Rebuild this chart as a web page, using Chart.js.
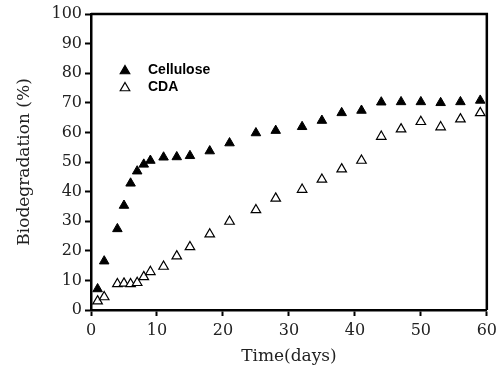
<!DOCTYPE html>
<html>
<head>
<meta charset="utf-8">
<script src="https://cdn.jsdelivr.net/npm/chart.js@4.4.1/dist/chart.umd.min.js"></script>
<style>
  body { margin: 0; background: #fff; }
  canvas { display: block; }
</style>
</head>
<body>
<canvas id="bioChart" width="502" height="372"></canvas>
<script>
// 측정 시점 (days)
const days = [1, 2, 4, 5, 6, 7, 8, 9, 11, 13, 15, 18, 21, 25, 28, 32, 35, 38, 41, 44, 47, 50, 53, 56, 59];
// Biodegradation (%)
const cellulose = [7.1, 16.5, 27.4, 35.3, 42.8, 46.9, 49.2, 50.5, 51.6, 51.7, 52.1, 53.7, 56.4, 59.8, 60.6, 61.9, 64.0, 66.6, 67.4, 70.2, 70.3, 70.3, 70.0, 70.3, 70.8];
const cda = [3.0, 4.4, 8.8, 9.0, 8.8, 9.2, 11.2, 12.9, 14.7, 18.2, 21.3, 25.6, 29.9, 33.8, 37.7, 40.7, 44.1, 47.6, 50.5, 58.6, 61.1, 63.6, 61.8, 64.5, 66.6];
const seriesNames = ["Cellulose", "CDA"];
const xTicks = [0, 10, 20, 30, 40, 50, 60];
const yTicks = [0, 10, 20, 30, 40, 50, 60, 70, 80, 90, 100];

const toPoints = (ys) => ys.map((y, i) => ({ x: days[i], y: y }));

// 위쪽/오른쪽 테두리
const frameBox = {
  id: "frameBox",
  afterDraw(chart) {
    const { ctx, chartArea } = chart;
    ctx.save();
    ctx.strokeStyle = "#000";
    ctx.lineWidth = 2.5;
    ctx.beginPath();
    ctx.moveTo(chartArea.left, chartArea.top);
    ctx.lineTo(chartArea.right, chartArea.top);
    ctx.lineTo(chartArea.right, chartArea.bottom);
    ctx.stroke();
    ctx.restore();
  },
};

// 차트 안쪽 범례
const innerLegend = {
  id: "innerLegend",
  afterDraw(chart) {
    const { ctx } = chart;
    const r = 5.5;
    chart.data.datasets.forEach((ds, i) => {
      const cx = 125;
      const cy = 71 + i * 17;
      ctx.save();
      ctx.beginPath();
      ctx.moveTo(cx, cy - r);
      ctx.lineTo(cx + r * 0.866, cy + r * 0.5);
      ctx.lineTo(cx - r * 0.866, cy + r * 0.5);
      ctx.closePath();
      ctx.fillStyle = ds.backgroundColor;
      ctx.fill();
      ctx.lineWidth = 1.2;
      ctx.strokeStyle = "#000";
      ctx.stroke();
      ctx.fillStyle = "#000";
      ctx.font = "bold 14px 'Liberation Sans', Arial, sans-serif";
      ctx.textBaseline = "middle";
      ctx.textAlign = "left";
      ctx.fillText(ds.label, 148, cy - 1);
      ctx.restore();
    });
  },
};

const tickFont = { family: "'DejaVu Serif', serif", size: 16 };
const titleFont = { family: "'DejaVu Serif', serif", size: 17 };

new Chart(document.getElementById("bioChart"), {
  type: "scatter",
  data: {
    datasets: [
      {
        label: seriesNames[0],
        data: toPoints(cellulose),
        pointStyle: "triangle",
        pointRadius: 5.5,
        backgroundColor: "#000",
        borderColor: "#000",
        borderWidth: 1,
      },
      {
        label: seriesNames[1],
        data: toPoints(cda),
        pointStyle: "triangle",
        pointRadius: 5.5,
        backgroundColor: "#fff",
        borderColor: "#000",
        borderWidth: 1.2,
      },
    ],
  },
  options: {
    responsive: false,
    animation: false,
    layout: {
      padding: { left: 0, top: 14, right: 9, bottom: 0 },
    },
    plugins: {
      legend: { display: false },
      tooltip: { enabled: false },
    },
    scales: {
      x: {
        type: "linear",
        min: 0,
        max: 60,
        afterBuildTicks: (scale) => {
          scale.ticks = xTicks.map((v) => ({ value: v }));
        },
        afterFit: (scale) => {
          scale.height = 62;
        },
        grid: { drawOnChartArea: false, drawTicks: true, tickLength: 6, tickWidth: 2, tickColor: "#000" },
        border: { display: true, color: "#000", width: 2.5 },
        ticks: { color: "#222", font: tickFont, padding: 5, maxRotation: 0 },
        title: {
          display: true,
          text: "Time(days)",
          color: "#222",
          font: titleFont,
          padding: { top: 0, bottom: 5 },
        },
      },
      y: {
        min: 0,
        max: 100,
        afterBuildTicks: (scale) => {
          scale.ticks = yTicks.map((v) => ({ value: v }));
        },
        afterFit: (scale) => {
          scale.width = 91;
        },
        grid: { drawOnChartArea: false, drawTicks: true, tickLength: 6, tickWidth: 2, tickColor: "#000" },
        border: { display: true, color: "#000", width: 2.5 },
        ticks: { color: "#222", font: tickFont, padding: 3 },
        title: {
          display: true,
          text: "Biodegradation (%)",
          color: "#222",
          font: titleFont,
          padding: { top: 14, bottom: 0 },
        },
      },
    },
  },
  plugins: [frameBox, innerLegend],
});
</script>
</body>
</html>
